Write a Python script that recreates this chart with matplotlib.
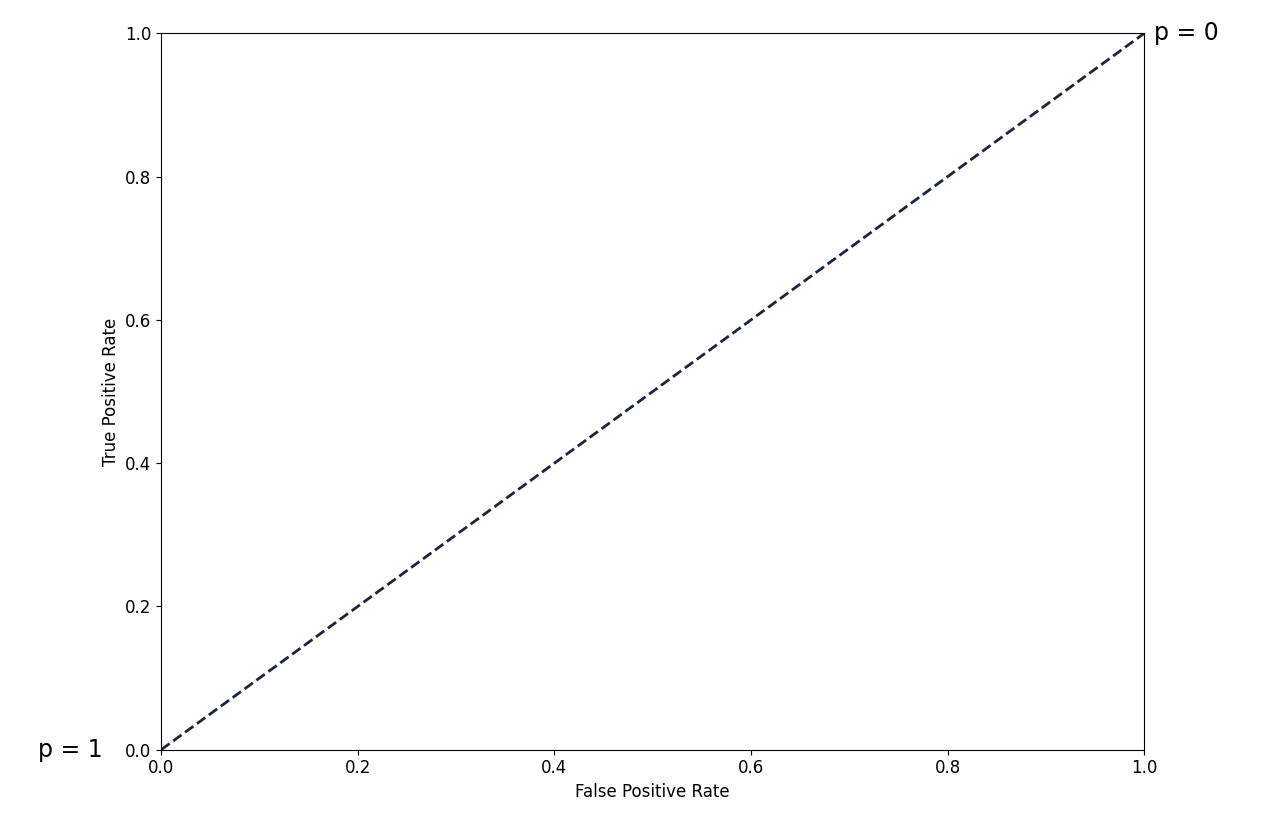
import matplotlib
matplotlib.use("Agg")
import matplotlib.pyplot as plt

# chance line endpoints (FPR, TPR)
fpr = [0.0, 1.0]
tpr = [0.0, 1.0]
ticks = [0.0, 0.2, 0.4, 0.6, 0.8, 1.0]

fig = plt.figure(figsize=(12.8, 8.32), dpi=100)
ax = fig.add_axes([0.126, 0.099, 0.768, 0.861])
ax.plot(fpr, tpr, linestyle="--", color="#1b2340", linewidth=2)
ax.set_xlim(0, 1)
ax.set_ylim(0, 1)
ax.set_xticks(ticks)
ax.set_yticks(ticks)
ax.tick_params(labelsize=12)
ax.set_xlabel("False Positive Rate", fontsize=12)
ax.set_ylabel("True Positive Rate", fontsize=12)

ax.text(fpr[0] - 0.06, tpr[0], "p = 1", fontsize=17, ha="right", va="center")
ax.text(fpr[1] + 0.01, tpr[1], "p = 0", fontsize=17, ha="left", va="center")

fig.savefig("out.png", dpi=100)
